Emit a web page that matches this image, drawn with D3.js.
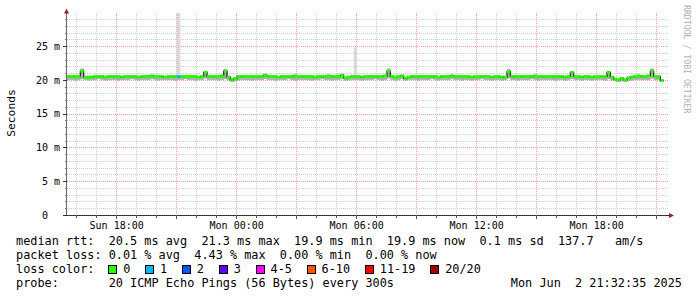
<!DOCTYPE html>
<html><head><meta charset="utf-8">
<script src="https://cdn.jsdelivr.net/npm/d3@7"></script>
<style>
html,body{margin:0;padding:0;background:#fff;}
svg{display:block;}
text{font-family:"DejaVu Sans Mono",monospace;white-space:pre;}
</style>
</head><body>
<svg id="chart" width="697" height="297"></svg>
<script>
// ---------------- data ----------------
const startTime = new Date(2025, 5, 1, 15, 32, 35);
const endTime   = new Date(2025, 5, 2, 21, 32, 35);
const stepSeconds = 600;

// median rtt (ms), one value per 10-minute step
const median = [
 20.5,20.5,20.5,20.5,21.3,20.4,20.4,20.4,20.5,20.5,20.5,20.4,20.5,20.5,20.5,20.5,20.4,20.5,
 20.5,20.5,20.5,20.4,20.5,20.5,20.5,20.6,20.5,20.5,20.5,20.4,20.5,20.5,20.5,20.5,20.5,20.5,
 20.5,20.5,20.5,20.4,20.5,21.1,20.5,20.5,20.5,20.5,20.6,21.3,20.4,20.0,20.2,20.5,20.5,20.5,
 20.5,20.5,20.5,20.5,20.5,20.7,20.5,20.5,20.5,20.4,20.5,20.5,20.5,20.5,20.6,20.5,20.5,20.5,
 20.5,20.5,20.4,20.5,20.5,20.5,20.6,20.5,20.5,20.5,20.7,20.3,20.4,20.5,20.5,20.5,20.4,20.5,
 20.5,20.5,20.5,20.5,20.5,20.6,21.3,20.5,20.4,20.5,20.6,20.2,20.4,20.5,20.5,20.5,20.5,20.5,
 20.5,20.5,20.5,20.4,20.5,20.5,20.5,20.6,20.5,20.5,20.5,20.5,20.5,20.4,20.5,20.5,20.5,20.5,
 20.5,20.4,20.5,20.5,20.4,20.4,21.2,20.5,20.5,20.5,20.5,20.5,20.5,20.5,20.6,20.5,20.5,20.5,
 20.5,20.5,20.5,20.5,20.5,20.4,20.5,21.1,20.5,20.5,20.4,20.5,20.5,20.4,20.5,20.5,20.5,20.5,
 21.1,20.4,20.1,20.0,20.2,20.0,20.3,20.4,20.5,20.6,20.5,20.5,20.6,21.3,20.5,20.5,19.9,null
];
// lower edge of smoke (ms)
const smokeLo = [
 20.0,20.0,19.9,20.0,20.1,20.0,19.9,20.0,20.0,20.1,20.0,19.9,20.0,20.0,20.0,19.9,20.0,20.0,
 20.0,20.1,20.0,19.9,20.0,20.0,20.0,20.1,20.0,19.9,20.0,20.0,20.0,20.0,19.9,20.0,20.0,20.1,
 20.0,20.0,19.9,20.0,20.0,20.2,20.0,20.0,20.0,19.9,20.0,20.1,19.9,19.7,19.8,19.9,20.0,20.0,
 20.0,19.9,20.0,20.0,20.0,20.1,20.0,20.0,19.9,20.0,20.0,20.0,20.1,20.0,19.9,20.0,20.0,20.0,
 20.0,19.9,20.0,20.0,20.1,20.0,20.0,19.9,20.0,20.0,20.1,19.9,19.9,20.0,20.0,20.0,19.9,20.0,
 20.0,20.0,20.1,20.0,19.9,20.0,20.2,20.0,19.9,20.0,20.1,19.9,20.0,20.0,20.0,19.9,20.0,20.0,
 20.0,20.1,20.0,19.9,20.0,20.0,20.0,20.1,20.0,20.0,19.9,20.0,20.0,19.9,20.0,20.0,20.1,20.0,
 20.0,19.9,20.0,20.0,19.9,20.0,20.2,20.0,20.0,19.9,20.0,20.0,20.0,20.1,20.0,19.9,20.0,20.0,
 20.0,20.0,19.9,20.0,20.0,19.9,20.0,20.1,20.0,20.0,19.9,20.0,20.0,19.9,20.0,20.0,20.0,19.9,
 20.1,19.9,19.8,19.7,19.8,19.7,19.8,19.9,20.0,20.0,20.0,20.0,20.0,20.2,20.0,20.0,19.7,null
];
// upper edge of smoke (ms)
const smokeHi = [
 20.6,20.6,20.6,20.6,21.7,20.6,20.6,20.6,20.6,20.6,20.6,20.6,20.6,20.6,20.6,20.6,20.6,20.6,
 20.6,20.6,20.6,20.6,20.6,20.6,20.6,20.7,20.6,20.6,20.6,20.6,20.6,20.6,20.6,20.6,20.6,20.6,
 20.6,20.6,20.6,20.6,20.6,21.3,20.6,20.6,20.6,20.6,20.7,21.6,20.6,20.3,20.4,20.6,20.6,20.6,
 20.6,20.6,20.6,20.6,20.6,20.8,20.6,20.6,20.6,20.6,20.6,20.6,20.6,20.6,20.7,20.6,20.6,20.6,
 20.6,20.6,20.6,20.6,20.6,20.6,20.7,20.6,20.6,20.6,20.8,20.4,20.6,20.6,20.6,20.6,20.6,20.6,
 20.6,20.6,20.6,20.6,20.6,20.7,21.7,20.6,20.6,20.6,20.7,20.4,20.6,20.6,20.6,20.6,20.6,20.6,
 20.6,20.6,20.6,20.6,20.6,20.6,20.6,20.7,20.6,20.6,20.6,20.6,20.6,20.6,20.6,20.6,20.6,20.6,
 20.6,20.6,20.6,20.6,20.6,20.6,21.6,20.6,20.6,20.6,20.6,20.6,20.6,20.6,20.7,20.6,20.6,20.6,
 20.6,20.6,20.6,20.6,20.6,20.6,20.6,21.2,20.6,20.6,20.6,20.6,20.6,20.6,20.6,20.6,20.6,20.6,
 21.2,20.6,20.3,20.2,20.4,20.2,20.5,20.6,20.6,20.7,20.6,20.6,20.7,21.7,20.6,20.6,20.1,null
];
// lost pings out of 20 per step
const lossCount = [
 0,0,0,0,0,0,0,0,0,0,0,0,0,0,0,0,0,0,
 0,0,0,0,0,0,0,0,0,0,0,0,0,0,0,1,0,0,
 0,0,0,0,0,0,0,0,0,0,0,0,0,0,0,0,0,0,
 0,0,0,0,0,0,0,0,0,0,0,0,0,0,0,0,0,0,
 0,0,0,0,0,0,0,0,0,0,0,0,0,0,0,0,0,0,
 0,0,0,0,0,0,0,0,0,0,0,0,0,0,0,0,0,0,
 0,0,0,0,0,0,0,0,0,0,0,0,0,0,0,0,0,0,
 0,0,0,0,0,0,0,0,0,0,0,0,0,0,0,0,0,0,
 0,0,0,0,0,0,0,0,0,0,0,0,0,0,0,0,0,0,
 0,0,0,0,0,0,0,0,0,0,0,0,0,0,0,0,0,0
];
// single slow pings (outer smoke)
const outlierIndex = [33, 86];
const outlierMax = [30.5, 24.8];

const yTicks = [0, 5, 10, 15, 20, 25];
const lossLabels = ["0", "1", "2", "3", "4-5", "6-10", "11-19", "20/20"];
const lossColors = ["#26ff00", "#00b8ff", "#0059ff", "#5e00ff", "#ff00ff", "#ff5500", "#ff0000", "#a10000"];
const legendRtt  = "median rtt:  20.5 ms avg  21.3 ms max  19.9 ms min  19.9 ms now  0.1 ms sd  137.7   am/s";
const legendLoss = "packet loss: 0.01 % avg  4.43 % max  0.00 % min  0.00 % now";
const legendColorLabel = "loss color:";
const legendProbe = "probe:       20 ICMP Echo Pings (56 Bytes) every 300s";
const legendDate = "Mon Jun  2 21:32:35 2025";
const watermark = "RRDTOOL / TOBI OETIKER";
const yTitle = "Seconds";

// ---------------- drawing ----------------
const svg = d3.select("#chart");
const X0 = 67, X1 = 667, Y0 = 215, Y1 = 13;
const x = d3.scaleTime().domain([startTime, endTime]).range([X0, X1]);
const y = d3.scaleLinear().domain([0, 29.9]).range([Y0, Y1]);
const tAt = i => new Date(startTime.getTime() + i * stepSeconds * 1000);
const lossCat = c => c <= 3 ? c : c <= 5 ? 4 : c <= 10 ? 5 : c <= 19 ? 6 : 7;
const px = v => Math.round(v) + 0.5;

svg.append("rect").attr("width", 697).attr("height", 297).attr("fill", "#fff");

// grid
const grid = svg.append("g").attr("shape-rendering", "crispEdges").attr("stroke-width", 1).attr("stroke-dasharray", "1,1");
const ms = d3.range(1, 30);
grid.selectAll(".hmin").data(ms.filter(v => v % 5 !== 0)).join("line")
  .attr("x1", X0).attr("x2", X1 + 1).attr("y1", d => px(y(d))).attr("y2", d => px(y(d)))
  .attr("stroke", "#cfcfcf");
const hours = d3.timeHour.range(startTime, endTime);
grid.selectAll(".vmin").data(hours.filter(d => d.getHours() % 3 !== 0)).join("line")
  .attr("x1", d => px(x(d))).attr("x2", d => px(x(d))).attr("y1", Y1).attr("y2", Y0)
  .attr("stroke", "#cfcfcf");
grid.selectAll(".hmaj").data(ms.filter(v => v % 5 === 0)).join("line")
  .attr("x1", X0).attr("x2", X1 + 1).attr("y1", d => px(y(d))).attr("y2", d => px(y(d)))
  .attr("stroke", "#e8a2a2");
grid.selectAll(".vmaj").data(hours.filter(d => d.getHours() % 3 === 0)).join("line")
  .attr("x1", d => px(x(d))).attr("x2", d => px(x(d))).attr("y1", Y1).attr("y2", Y0)
  .attr("stroke", "#e8a2a2");

// smoke
const plot = svg.append("g");
plot.append("clipPath").attr("id", "clip").append("rect")
  .attr("x", X0).attr("y", Y1).attr("width", X1 - X0).attr("height", Y0 - Y1);
const sg = plot.append("g").attr("clip-path", "url(#clip)");
sg.selectAll(".out").data(outlierIndex).join("rect")
  .attr("x", (d) => x(tAt(d))).attr("width", (d) => x(tAt(d + 1)) - x(tAt(d)))
  .attr("y", (d, k) => y(outlierMax[k])).attr("height", (d, k) => y(smokeHi[d]) - y(outlierMax[k]))
  .attr("fill", "#d8d8d8");
const idx = d3.range(median.length).filter(i => smokeLo[i] != null);
sg.selectAll(".smk").data(idx).join("rect")
  .attr("x", i => x(tAt(i))).attr("width", i => x(tAt(i + 1)) - x(tAt(i)) + 0.3)
  .attr("y", i => y(smokeHi[i])).attr("height", i => y(smokeLo[i]) - y(smokeHi[i]))
  .attr("fill", "#ababab");

// median: dark step line under coloured horizontal segments
const pts = d3.range(median.length).filter(i => median[i] != null);
const stepLine = d3.line().curve(d3.curveStepAfter).x(d => x(d[0])).y(d => y(d[1]));
const stepData = pts.map(i => [tAt(i), median[i]]);
const last = pts[pts.length - 1];
stepData.push([tAt(last + 1), median[last]]);
sg.append("path").attr("d", stepLine(stepData)).attr("fill", "none")
  .attr("stroke", "#1a1a1a").attr("stroke-width", 1.2);
sg.selectAll(".med").data(pts).join("line")
  .attr("x1", i => x(tAt(i))).attr("x2", i => x(tAt(i + 1)))
  .attr("y1", i => y(median[i])).attr("y2", i => y(median[i]))
  .attr("stroke", i => lossColors[lossCat(lossCount[i])]).attr("stroke-width", 3);

// axes
const ax = svg.append("g").attr("shape-rendering", "crispEdges");
ax.append("line").attr("x1", X0 - 4).attr("x2", X1 + 2).attr("y1", Y0 + 0.5).attr("y2", Y0 + 0.5).attr("stroke", "#333");
ax.append("line").attr("x1", X0 - 0.5).attr("x2", X0 - 0.5).attr("y1", Y0).attr("y2", Y1 - 1).attr("stroke", "#666");
ax.selectAll(".ytk").data(yTicks).join("line")
  .attr("x1", X0 - 4).attr("x2", X0).attr("y1", d => px(y(d))).attr("y2", d => px(y(d))).attr("stroke", "#333");
ax.selectAll(".ytm").data(ms.filter(v => v % 5 !== 0)).join("line")
  .attr("x1", X0 - 2).attr("x2", X0).attr("y1", d => px(y(d))).attr("y2", d => px(y(d))).attr("stroke", "#777");
ax.selectAll(".xtk").data(hours).join("line")
  .attr("x1", d => px(x(d))).attr("x2", d => px(x(d))).attr("y1", Y0)
  .attr("y2", d => d.getHours() % 3 === 0 ? Y0 + 4 : Y0 + 3).attr("stroke", "#555");
// arrows
svg.append("path").attr("d", `M${X0 - 3},${Y1 + 0.5} L${X0 + 2},${Y1 + 0.5} L${X0 - 0.5},${Y1 - 4.5} Z`).attr("fill", "#9a1f1f");
svg.append("path").attr("d", `M${X1 + 2},${Y0 - 2} L${X1 + 2},${Y0 + 3} L${X1 + 7},${Y0 + 0.5} Z`).attr("fill", "#9a1f1f");

// axis labels through d3 axes
const yAxis = d3.axisLeft(y).tickValues(yTicks).tickSize(0).tickPadding(7)
  .tickFormat(v => v === 0 ? "0  " : v + " m");
const gy = svg.append("g").attr("transform", `translate(${X0},0)`).call(yAxis);
gy.select(".domain").remove();
gy.selectAll("text").attr("font-family", "DejaVu Sans Mono").attr("font-size", 10).attr("fill", "#000").style("white-space", "pre");

const sixHours = hours.filter(d => d.getHours() % 6 === 0);
const xAxis = d3.axisBottom(x).tickValues(sixHours).tickSize(0).tickPadding(6.5).tickFormat(d3.timeFormat("%a %H:%M"));
const gx = svg.append("g").attr("transform", `translate(0,${Y0})`).call(xAxis);
gx.select(".domain").remove();
gx.selectAll("text").attr("font-family", "DejaVu Sans Mono").attr("font-size", 10).attr("fill", "#000");

// y title
svg.append("text").attr("transform", "translate(15,113) rotate(-90)").attr("text-anchor", "middle")
  .attr("font-size", 11.3).attr("fill", "#000").text(yTitle);

// watermark
svg.append("text").attr("transform", "translate(684,5) rotate(90)").attr("text-anchor", "start")
  .attr("font-size", 8.2).attr("fill", "#b0b0b0").text(watermark);

// legend
const LF = 11.85, LX = 16;
const leg = svg.append("g").attr("font-size", LF).attr("fill", "#000");
leg.append("text").attr("x", LX).attr("y", 245).text(legendRtt);
leg.append("text").attr("x", LX).attr("y", 259).text(legendLoss);
const lcl = leg.append("text").attr("x", LX).attr("y", 273).text(legendColorLabel);
let cx = LX + lcl.node().getComputedTextLength() + 14;
lossLabels.forEach((lab, k) => {
  leg.append("rect").attr("x", Math.round(cx) + 0.5).attr("y", 265.5).attr("width", 8).attr("height", 8)
    .attr("fill", lossColors[k]).attr("stroke", "#000").attr("stroke-width", 1).attr("shape-rendering", "crispEdges");
  const t = leg.append("text").attr("x", cx + 14.7).attr("y", 273).text(lab);
  cx = cx + 14.7 + t.node().getComputedTextLength() + 15;
});
leg.append("text").attr("x", LX).attr("y", 287).text(legendProbe);
leg.append("text").attr("x", 682).attr("y", 287).attr("text-anchor", "end").text(legendDate);
</script>
</body></html>
